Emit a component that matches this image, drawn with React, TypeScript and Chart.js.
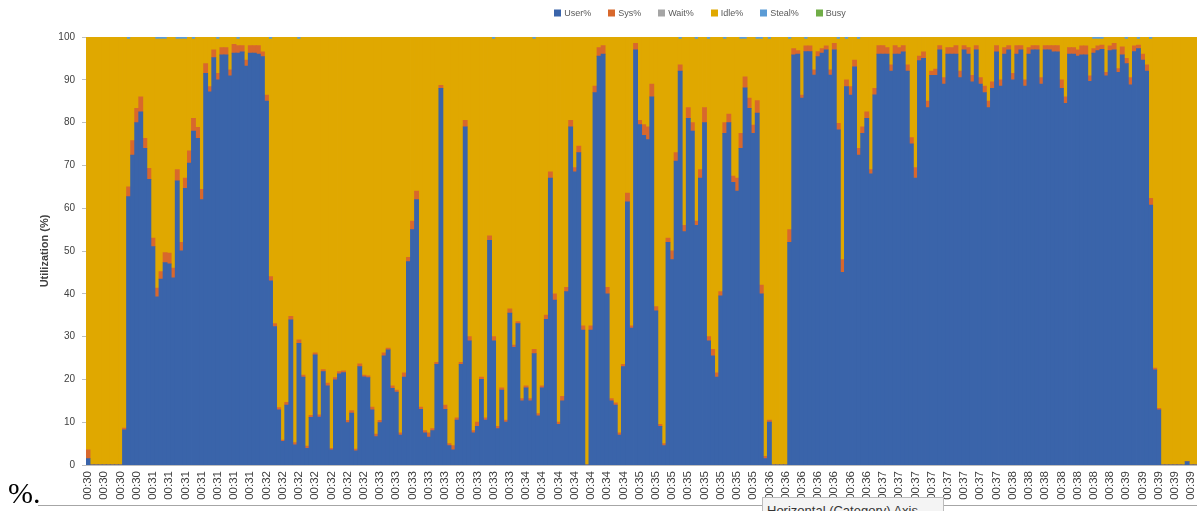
import React, { useEffect, useRef } from "react";
import { Chart, registerables } from "chart.js";

Chart.register(...registerables);

// Visible tick labels (one every 4 bars)
const tickLabels = [
  "00:30", "00:30", "00:30", "00:30",
  "00:31", "00:31", "00:31", "00:31", "00:31", "00:31", "00:31",
  "00:32", "00:32", "00:32", "00:32", "00:32", "00:32", "00:32",
  "00:33", "00:33", "00:33", "00:33", "00:33", "00:33", "00:33", "00:33", "00:33",
  "00:34", "00:34", "00:34", "00:34", "00:34", "00:34", "00:34",
  "00:35", "00:35", "00:35", "00:35", "00:35", "00:35", "00:35", "00:35",
  "00:36", "00:36", "00:36", "00:36", "00:36", "00:36", "00:36",
  "00:37", "00:37", "00:37", "00:37", "00:37", "00:37", "00:37", "00:37",
  "00:38", "00:38", "00:38", "00:38", "00:38", "00:38", "00:38",
  "00:39", "00:39", "00:39", "00:39", "00:39",
];

const userPct = [
  1.5, 0, 0, 0, 0, 0, 0, 0, 0, 8.2,
  62.7, 72.4, 80, 82.5, 74, 66.7, 51, 39.3, 43.4, 47.3,
  47, 43.7, 66.4, 50, 64.6, 70.5, 78, 76.3, 62, 91.5,
  87.2, 95.2, 90, 95.8, 95.8, 90.9, 96.2, 96.2, 96.5, 93.2,
  96.2, 96.2, 96, 95.4, 85, 43, 32.3, 12.9, 5.5, 14,
  33.9, 4.7, 28.4, 20.5, 3.9, 11.1, 25.7, 11.2, 21.8, 18.5,
  3.5, 19.9, 21.3, 21.6, 9.9, 12.1, 3.3, 23, 20.6, 20.4,
  12.9, 6.6, 9.9, 25.5, 26.9, 17.9, 17, 7, 20.5, 47.5,
  55, 62, 13, 7.5, 6.5, 8, 23.5, 88, 13, 4.5,
  3.5, 10.5, 23.5, 79, 29, 7.5, 9, 20, 10.5, 52.5,
  29, 8.5, 17.5, 10, 35.5, 27.5, 33, 15, 18, 15,
  26, 11.5, 18, 34, 67, 38.5, 9.5, 15, 40.5, 79,
  68.5, 73, 31.5, 0, 31.5, 87, 95.5, 96, 40, 15,
  14, 7, 23, 61.5, 32, 97, 79.5, 77, 76, 86,
  36, 9, 4.5, 52, 48, 71, 92, 54.5, 81, 78,
  56, 67, 80, 29, 25.5, 20.5, 39.5, 77.5, 80, 66,
  64, 74, 88.1, 83.3, 77.5, 82.2, 40, 1.5, 10, 0,
  0, 0, 0, 52, 95.8, 96, 85.7, 96.6, 96.6, 91.1,
  95.4, 96.2, 97, 91.1, 97, 78.3, 45, 88.4, 86.4, 93,
  72.4, 77.5, 81, 68, 86.5, 96, 96, 96, 92, 96,
  96, 96.5, 92, 75, 67, 94.5, 95, 83.5, 91, 91,
  97, 89, 96, 96, 96, 90.5, 97, 96, 89.5, 97,
  89, 87, 83.5, 88, 96.5, 88.5, 96, 97, 90, 96,
  97, 88.5, 96, 97, 97, 89, 97, 97, 96.5, 96.5,
  88, 84.5, 96, 96, 95.5, 95.8, 95.8, 89.6, 96.2, 96.8,
  97.1, 90.9, 96.8, 97, 91.7, 95.8, 93.8, 88.8, 96.6, 97.3,
  94.6, 92, 60.7, 22.2, 12.9, 0, 0, 0, 0, 0,
  0, 0.8, 0, 0,
];

const sysPct = [
  2, 0, 0, 0, 0, 0, 0, 0, 0, 0.4,
  2.3, 3.4, 3.3, 3.5, 2.3, 2.6, 2, 2, 1.8, 2.3,
  2.5, 2.3, 2.6, 2, 2.4, 2.9, 3, 2.6, 2.4, 2.3,
  1.2, 1.8, 1.5, 1.7, 1.7, 1.4, 2.1, 1.8, 1.5, 1.4,
  1.8, 1.8, 2, 1.1, 1.4, 1, 0.7, 0.5, 0.3, 0.6,
  0.8, 0.5, 0.8, 0.5, 0.5, 0.5, 0.5, 0.5, 0.5, 0.6,
  0.4, 0.5, 0.5, 0.4, 0.5, 0.6, 0.4, 0.6, 0.4, 0.4,
  0.6, 0.6, 0.5, 0.7, 0.4, 0.6, 0.5, 0.5, 1, 1,
  2, 2, 0.5, 0.5, 1, 0.5, 0.5, 0.7, 1, 0.5,
  1, 0.5, 0.5, 1.5, 1, 0.5, 1, 0.5, 0.5, 1,
  1, 0.5, 0.5, 0.5, 1, 0.5, 0.5, 0.5, 0.5, 0.5,
  1, 0.5, 0.5, 1, 1.5, 1.5, 0.5, 1, 1, 1.5,
  1, 1.5, 1, 0, 1, 1.5, 2, 2, 1.5, 0.5,
  0.5, 0.5, 0.5, 2, 0.5, 1.5, 1, 2.5, 3, 3,
  1, 0.5, 0.5, 1, 2, 2, 1.5, 1.5, 2.5, 2,
  1, 2, 3.5, 1, 1.5, 1, 1, 2.5, 2, 1.5,
  3, 3.5, 2.6, 2.4, 1.9, 2.9, 2, 0.5, 0.5, 0,
  0, 0, 0, 3, 1.5, 0.8, 0.7, 1.3, 1.3, 1.2,
  1.2, 1.1, 0.9, 1.2, 1.5, 1.5, 3, 1.6, 2, 1.6,
  1.6, 1.5, 1.5, 1, 1.5, 2, 2, 1.5, 1.5, 2,
  1.5, 1.5, 1.5, 1.5, 2.5, 1, 1.5, 1.5, 1, 1.5,
  1, 1.5, 1.5, 1.5, 2, 1.5, 1, 1.5, 1.5, 1,
  1.5, 1.5, 1.5, 1.5, 1.5, 1.5, 1.5, 1, 1.5, 2,
  1, 1.5, 1.5, 1, 1, 1.5, 1, 1, 1.5, 1.5,
  2, 1.5, 1.5, 1.5, 1.5, 2.1, 2.1, 1.3, 1.1, 1.1,
  1, 0.8, 1.1, 1.5, 0.9, 1.9, 1.2, 1.7, 1.3, 0.8,
  1.4, 1.5, 1.6, 0.4, 0.3, 0, 0, 0, 0, 0,
  0, 0, 0, 0,
];

const stealPct = [
  0, 0, 0, 0, 0, 0, 0, 0, 0, 0,
  0.5, 0, 0, 0, 0, 0, 0, 0.5, 0.5, 0.5,
  0, 0, 0.5, 0.5, 0.5, 0, 0.5, 0, 0, 0,
  0, 0, 0.5, 0, 0, 0, 0, 0.5, 0, 0,
  0, 0, 0, 0, 0, 0.5, 0, 0, 0, 0,
  0, 0, 0.5, 0, 0, 0, 0, 0, 0, 0,
  0, 0, 0, 0, 0, 0, 0, 0, 0, 0,
  0, 0, 0, 0, 0, 0, 0, 0, 0, 0,
  0, 0, 0, 0, 0, 0, 0, 0, 0, 0,
  0, 0, 0, 0, 0, 0, 0, 0, 0, 0,
  0.5, 0, 0, 0, 0, 0, 0, 0, 0, 0,
  0.5, 0, 0, 0, 0, 0, 0, 0, 0, 0,
  0, 0, 0, 0, 0, 0, 0, 0, 0, 0,
  0, 0, 0, 0, 0, 0, 0, 0, 0, 0,
  0, 0, 0, 0, 0, 0, 0.5, 0, 0, 0,
  0.5, 0, 0, 0.5, 0, 0, 0, 0.5, 0, 0,
  0, 0.5, 0.5, 0, 0, 0.5, 0.5, 0, 0.5, 0,
  0, 0, 0, 0.5, 0, 0, 0, 0.5, 0, 0,
  0, 0, 0, 0, 0, 0.5, 0, 0.5, 0, 0,
  0.5, 0, 0, 0, 0, 0, 0, 0, 0, 0,
  0, 0, 0, 0, 0, 0, 0, 0, 0, 0,
  0, 0, 0, 0, 0, 0, 0, 0, 0, 0,
  0, 0, 0, 0, 0, 0, 0, 0, 0, 0,
  0, 0, 0, 0, 0, 0, 0, 0, 0, 0,
  0, 0, 0, 0, 0, 0, 0, 0, 0.5, 0.5,
  0.5, 0, 0, 0, 0, 0, 0.5, 0, 0, 0.5,
  0, 0, 0.5, 0, 0, 0, 0, 0, 0, 0,
  0, 0, 0, 0,
];

const seriesNames = ["User%", "Sys%", "Wait%", "Idle%", "Steal%", "Busy"];
const seriesColors = ["#3A64AA", "#D8682C", "#A5A5A5", "#E0A800", "#5B9BD5", "#70AD47"];

const FONT = '"Liberation Sans", Arial, sans-serif';
const LEGEND_CENTER_X = 700;
// The reference chart is cropped at the right edge of the window, so the
// canvas is a little wider than the visible frame.
const CANVAS_W = 1211;
const CANVAS_H = 511;

const legendPlugin = {
  id: "customLegend",
  afterDraw(chart: any) {
    const ctx = chart.ctx as CanvasRenderingContext2D;
    ctx.save();
    ctx.font = `9px ${FONT}`;
    const items = chart.data.datasets.map((d: any) => ({ text: d.label, color: d.backgroundColor }));
    const box = 7;
    const gap = 3;
    const spacing = 17;
    const widths = items.map((it: any) => box + gap + ctx.measureText(it.text).width);
    const total = widths.reduce((a: number, b: number) => a + b, 0) + spacing * (items.length - 1);
    let x = LEGEND_CENTER_X - total / 2;
    const cy = 13;
    items.forEach((it: any, i: number) => {
      ctx.fillStyle = it.color;
      ctx.fillRect(Math.round(x), cy - 3.5, box, box);
      ctx.fillStyle = "#595959";
      ctx.textBaseline = "middle";
      ctx.textAlign = "left";
      ctx.fillText(it.text, x + box + gap, cy + 0.5);
      x += widths[i] + spacing;
    });
    ctx.restore();
  },
};

export default function App() {
  const ref = useRef<HTMLCanvasElement>(null);

  useEffect(() => {
    const categories = userPct.map((_, i) => tickLabels[Math.floor(i / 4)]);
    const idlePct = userPct.map((u, i) => Math.max(0, 100 - u - sysPct[i] - stealPct[i]));
    const dataBySeries = [userPct, sysPct, [], idlePct, stealPct, []];

    const chart = new Chart(ref.current!, {
      type: "bar",
      data: {
        labels: categories,
        datasets: seriesNames.map((name, i) => ({
          label: name,
          data: dataBySeries[i],
          backgroundColor: seriesColors[i],
          borderWidth: 0,
          barPercentage: 1,
          categoryPercentage: 1,
          inflateAmount: 0.4,
        })),
      },
      options: {
        responsive: false,
        animation: false,
        layout: { padding: { left: 30, top: 37, right: 0, bottom: 0 } },
        plugins: {
          legend: { display: false },
          tooltip: { enabled: false },
        },
        scales: {
          x: {
            stacked: true,
            offset: true,
            grid: { display: false, drawTicks: false },
            border: { display: true, color: "#bfbfbf" },
            ticks: {
              autoSkip: false,
              minRotation: 90,
              maxRotation: 90,
              padding: 6,
              color: "#404040",
              font: { size: 11.5, family: FONT },
              callback: (_v: any, i: number) => (i % 4 === 0 ? tickLabels[i / 4] : null),
            },
            afterFit: (s: any) => {
              s.height = 46;
            },
          },
          y: {
            stacked: true,
            min: 0,
            max: 100,
            ticks: {
              stepSize: 10,
              padding: 7,
              color: "#404040",
              font: { size: 10, family: FONT },
            },
            grid: { drawOnChartArea: false, tickLength: 4, color: "#bfbfbf" },
            border: { color: "#bfbfbf" },
            title: {
              display: true,
              text: "Utilization (%)",
              color: "#404040",
              font: { size: 11, weight: "bold", family: FONT },
              padding: { top: 8, bottom: 0 },
            },
            afterFit: (s: any) => {
              s.width = 56;
            },
          },
        },
      },
      plugins: [legendPlugin],
    } as any);

    return () => chart.destroy();
  }, []);

  return (
    <div
      style={{
        position: "fixed",
        left: 0,
        top: 0,
        width: 1197,
        height: 511,
        overflow: "hidden",
        background: "#ffffff",
      }}
    >
      <canvas
        ref={ref}
        width={CANVAS_W}
        height={CANVAS_H}
        style={{ position: "absolute", left: 0, top: 0, display: "block" }}
      />
      <div
        style={{
          position: "absolute",
          left: 8,
          top: 478,
          font: '30px "Liberation Serif", "DejaVu Serif", serif',
          lineHeight: "30px",
          color: "#000",
        }}
      >
        %.
      </div>
      <div
        style={{
          position: "absolute",
          left: 38,
          top: 505,
          right: 0,
          height: 1,
          background: "#a6a6a6",
        }}
      />
      <div
        style={{
          position: "absolute",
          left: 762,
          top: 497,
          width: 182,
          height: 30,
          background: "#f4f4f4",
          border: "1px solid #bcbcbc",
          boxSizing: "border-box",
          padding: "5px 0 0 4px",
          font: `13px ${FONT}`,
          color: "#333",
          whiteSpace: "nowrap",
        }}
      >
        Horizontal (Category) Axis
      </div>
    </div>
  );
}
